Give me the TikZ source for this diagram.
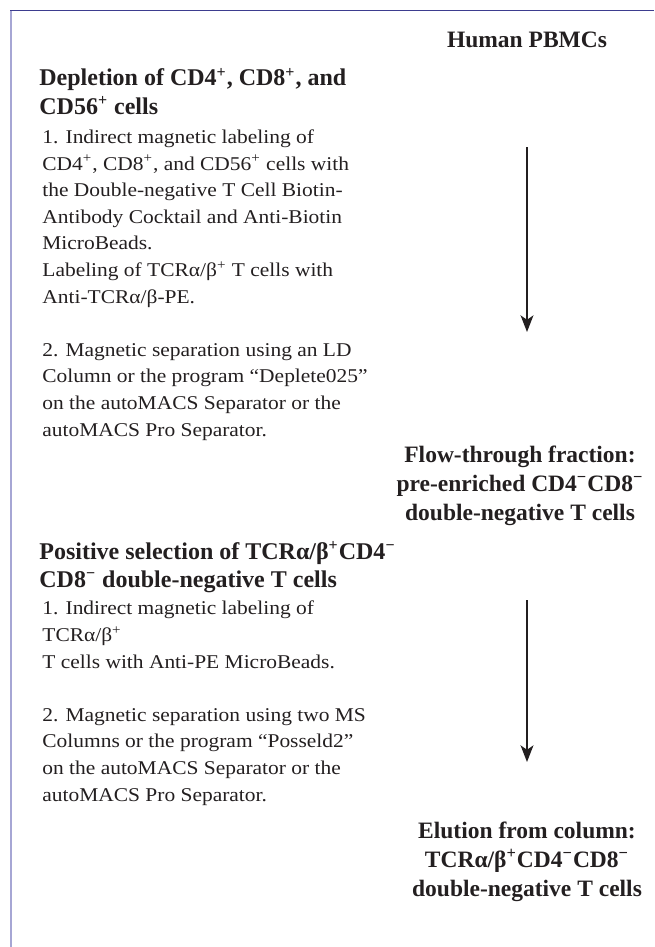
\documentclass[tikz,border=0pt]{standalone}
\usepackage{fontspec}
\setmainfont{Liberation Serif}
\newfontfamily\stepfont[FakeStretch=1.1]{Liberation Serif}
\usetikzlibrary{arrows.meta}

\definecolor{ink}{HTML}{231F20}
\definecolor{rulenavy}{HTML}{3D3D8F}
\definecolor{rulelilac}{HTML}{A6A6D4}
\newcommand{\suppos}{\textsuperscript{+}}
\newcommand{\supneg}{\textsuperscript{−}}

\begin{document}
\begin{tikzpicture}[x=0.5pt, y=-0.5pt,
  heading/.style={anchor=base west, inner sep=0pt, align=left, text=ink,
    font=\bfseries\fontsize{12}{14}\selectfont},
  stepstext/.style={anchor=base west, inner sep=0pt, align=left, text=ink,
    font=\stepfont\fontsize{9.75}{13.3}\selectfont},
  result/.style={anchor=base, inner sep=0pt, align=center, text=ink,
    font=\bfseries\fontsize{11.75}{14.5}\selectfont},
  flowarrow/.style={ink, line width=1pt,
    -{Stealth[length=8.3pt, width=6.4pt, inset=2.2pt]}}]

\useasboundingbox (0,0) rectangle (654,947);
\draw [rulelilac, line width=1pt] (11,11) -- (11,947);
\draw [rulenavy, line width=0.5pt] (10,11) -- (654,11);

% base of the last line of each text
\coordinate (P) at (527,48);
\coordinate (D) at (39,114);
\coordinate (DS) at (42,436);
\coordinate (F) at (520,520);
\coordinate (S) at (39,587);
\coordinate (SS) at (42,801);
\coordinate (E) at (527,896);
\coordinate (A1) at (527,147);
\coordinate (B1) at (527,332);
\coordinate (A2) at (527,600);
\coordinate (B2) at (527,762);

\node [result] (pbmc) at (P) {Human PBMCs};
\node [heading] (depl) at (D) {Depletion of CD4\suppos, CD8\suppos, and\\CD56\suppos\ cells};
\node [stepstext] (deplsteps) at (DS) {1. Indirect magnetic labeling of\\
CD4\suppos, CD8\suppos, and CD56\suppos\ cells with\\
the Double-negative T Cell Biotin-\\
Antibody Cocktail and Anti-Biotin\\
MicroBeads.\\
Labeling of TCRα/β\suppos\ T cells with\\
Anti-TCRα/β-PE.\\[13.3pt]
2. Magnetic separation using an LD\\
Column or the program “Deplete025”\\
on the autoMACS Separator or the\\
autoMACS Pro Separator.};
\node [result] (flow) at (F) {Flow-through fraction:\\pre-enriched CD4\supneg CD8\supneg\\double-negative T cells};
\node [heading] (possel) at (S) {Positive selection of TCRα/β\suppos CD4\supneg\\CD8\supneg\ double-negative T cells};
\node [stepstext] (posselsteps) at (SS) {1. Indirect magnetic labeling of\\
TCRα/β\suppos\\
T cells with Anti-PE MicroBeads.\\[13.3pt]
2. Magnetic separation using two MS\\
Columns or the program “Posseld2”\\
on the autoMACS Separator or the\\
autoMACS Pro Separator.};
\node [result] (elut) at (E) {Elution from column:\\TCRα/β\suppos CD4\supneg CD8\supneg\\double-negative T cells};

\draw [flowarrow] (A1) -- (B1);
\draw [flowarrow] (A2) -- (B2);
\end{tikzpicture}
\end{document}
